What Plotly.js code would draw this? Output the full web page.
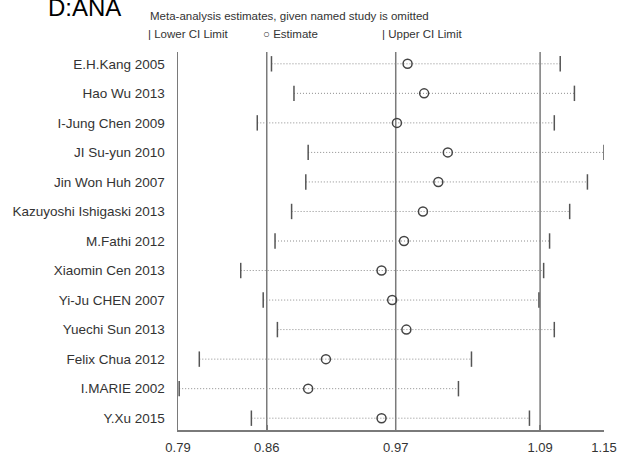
<!DOCTYPE html>
<html>
<head>
<meta charset="utf-8">
<script src="https://cdn.plot.ly/plotly-3.0.1.min.js"></script>
<style>html,body{margin:0;padding:0;background:#fff;}#chart{width:635px;height:459px;}</style>
</head>
<body>
<div id="chart"></div>
<script>
// Study omitted (top to bottom)
var studies = ["E.H.Kang 2005","Hao Wu 2013","I-Jung Chen 2009","JI Su-yun 2010","Jin Won Huh 2007",
  "Kazuyoshi Ishigaski 2013","M.Fathi 2012","Xiaomin Cen 2013","Yi-Ju CHEN 2007","Yuechi Sun 2013",
  "Felix Chua 2012","I.MARIE 2002","Y.Xu 2015"];
var estimate = [0.979,0.993,0.970,1.013,1.005,0.992,0.976,0.957,0.966,0.978,0.910,0.895,0.957];
var lowerCI  = [0.864,0.883,0.852,0.895,0.893,0.881,0.867,0.838,0.857,0.869,0.803,0.786,0.847];
var upperCI  = [1.108,1.120,1.103,1.145,1.131,1.116,1.099,1.094,1.090,1.103,1.033,1.022,1.082];
// axis ticks: min lower, overall lower, overall estimate, overall upper, max upper
var tickValues = [0.785,0.860,0.969,1.091,1.145];
var tickLabels = ["0.79","0.86","0.97","1.09","1.15"];
var refLines = [0.860,0.969,1.091];

var n = studies.length;
var yPos = studies.map(function(_, i){ return n - 1 - i; });

var lx = [], ly = [];
for (var i = 0; i < n; i++) {
  lx.push(lowerCI[i], upperCI[i], null);
  ly.push(yPos[i], yPos[i], null);
}

var grey = '#7a7a7a';
var traces = [
  {x: lx, y: ly, mode: 'lines', line: {color: '#8c8c8c', width: 1, dash: '1px,2px'}, hoverinfo: 'skip', showlegend: false},
  {x: lowerCI, y: yPos, mode: 'markers', marker: {symbol: 'line-ns-open', size: 11, color: '#555', line: {color: '#555', width: 1.5}}, showlegend: false},
  {x: upperCI, y: yPos, mode: 'markers', marker: {symbol: 'line-ns-open', size: 11, color: '#555', line: {color: '#555', width: 1.5}}, showlegend: false},
  {x: estimate, y: yPos, mode: 'markers', marker: {symbol: 'circle-open', size: 9, color: '#444', line: {color: '#444', width: 1.5}}, showlegend: false}
];

var shapes = refLines.map(function(v){
  return {type: 'line', xref: 'x', yref: 'paper', x0: v, x1: v, y0: 0, y1: 1, line: {color: grey, width: 1.5}, layer: 'below'};
});

var fontFam = 'Liberation Sans, Arial, sans-serif';
function py(p){ return (430 - p) / 378; }
function px(p){ return (p - 178) / 426; }
var annotations = [
  {text: 'D:ANA', xref: 'paper', yref: 'paper', x: px(46), y: py(8), xanchor: 'left', yanchor: 'middle', showarrow: false, font: {family: fontFam, size: 24, color: '#000'}},
  {text: 'Meta-analysis estimates, given named study is omitted', xref: 'paper', yref: 'paper', x: px(148), y: py(16), yanchor: 'middle', xanchor: 'left', showarrow: false, font: {family: fontFam, size: 11.5, color: '#333'}},
  {text: '| Lower CI Limit', xref: 'paper', yref: 'paper', x: px(146), y: py(34), yanchor: 'middle', xanchor: 'left', showarrow: false, font: {family: fontFam, size: 11.5, color: '#333'}},
  {text: '○ Estimate', xref: 'paper', yref: 'paper', x: px(261), y: py(34), yanchor: 'middle', xanchor: 'left', showarrow: false, font: {family: fontFam, size: 11.5, color: '#333'}},
  {text: '| Upper CI Limit', xref: 'paper', yref: 'paper', x: px(380), y: py(34), yanchor: 'middle', xanchor: 'left', showarrow: false, font: {family: fontFam, size: 11.5, color: '#333'}}
];

var layout = {
  width: 635, height: 459,
  margin: {l: 178, r: 31, t: 52, b: 29},
  paper_bgcolor: '#fff', plot_bgcolor: '#fff',
  font: {family: fontFam, size: 13, color: '#333'},
  xaxis: {range: [tickValues[0], tickValues[4]], tickvals: tickValues, ticktext: tickLabels,
    showgrid: false, zeroline: false, showline: true, linecolor: grey, linewidth: 1.5,
    ticks: 'inside', ticklen: 5, tickcolor: grey, tickwidth: 1.5, ticklabelstandoff: 5,
    tickfont: {size: 13, color: '#333'}},
  yaxis: {range: [-0.4, n - 1 + 0.4], tickvals: yPos, ticktext: studies,
    showgrid: false, zeroline: false, showline: true, linecolor: grey, linewidth: 1.5,
    ticks: '', ticklabelstandoff: 9, tickfont: {size: 13.5, color: '#333'}},
  shapes: shapes,
  annotations: annotations,
  showlegend: false
};

Plotly.newPlot('chart', traces, layout, {displayModeBar: false, staticPlot: true});
</script>
</body>
</html>
